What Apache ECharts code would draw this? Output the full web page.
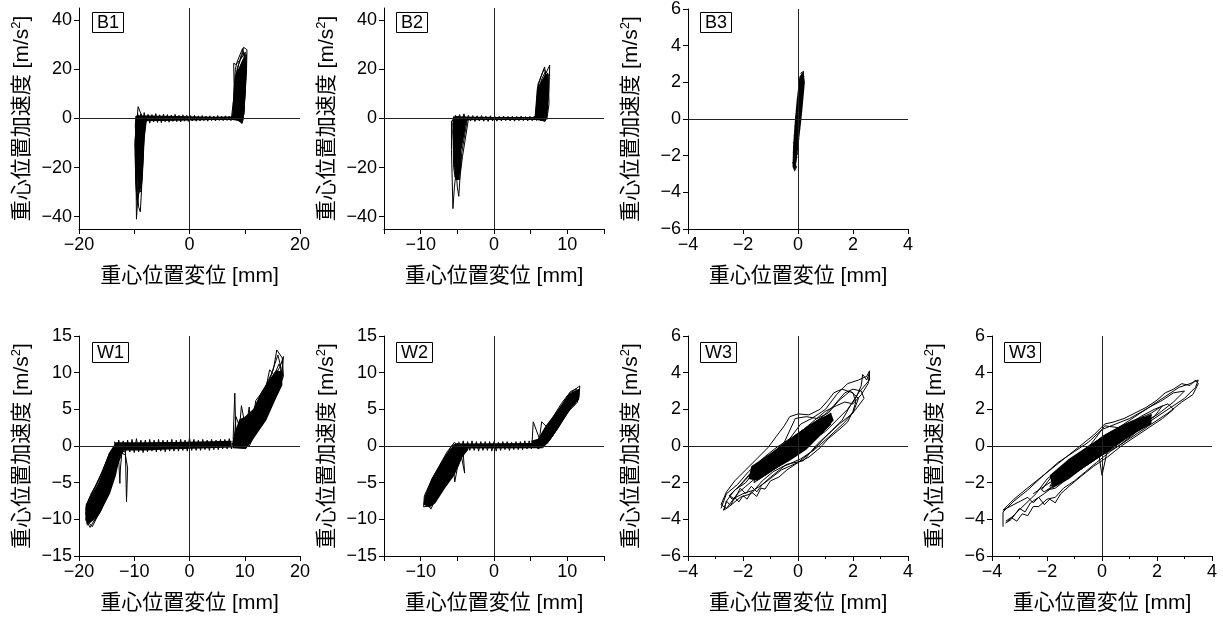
<!DOCTYPE html>
<html>
<head>
<meta charset="utf-8">
<script src="https://cdn.jsdelivr.net/npm/echarts@6/dist/echarts.min.js"></script>
<style>
  html, body { margin: 0; padding: 0; background: #fff; }
  #main { width: 1223px; height: 621px; }
</style>
</head>
<body>
<div id="main"></div>
<script>
// ---- data ([displacement mm, acceleration m/s2]) ----
// B1
var b1Plateau = [[-9.4,2.2],[-9.1,-1.6],[-8.8,1.9],[-8.5,-1.8],[-8.2,2.4],[-7.9,-1.5],[-7.5,1.7],[-7.2,-1.9],[-6.8,1.6],[-6.5,-1.4],[-6.1,2.0],[-5.8,-1.6],[-5.4,1.5],[-5.1,-1.7],[-4.7,1.8],[-4.4,-1.3],[-4.0,1.6],[-3.7,-1.5],[-3.3,1.4],[-3.0,-1.2],[-2.6,1.7],[-2.3,-1.3],[-1.9,1.3],[-1.6,-1.4],[-1.2,1.5],[-0.9,-1.1],[-0.5,1.3],[-0.2,-1.2],[0.2,1.2],[0.5,-1.0],[0.9,1.3],[1.2,-1.1],[1.6,1.1],[1.9,-1.0],[2.3,1.2],[2.6,-0.9],[3.0,1.0],[3.3,-1.1],[3.7,1.1],[4.0,-0.9],[4.4,1.0],[4.7,-1.0],[5.1,1.2],[5.4,-0.8],[5.8,1.0],[6.1,-0.9],[6.5,1.1],[6.8,-0.8],[7.2,1.0],[7.5,-0.9],[7.9,1.2]];
var b1Left = [[-7.8,0.3],[-9.5,-1.5],[-9.7,-20],[-9.6,-41],[-9.3,-30],[-8.6,-12],[-8.2,-1],[-9.4,1.5],[-9.8,-8],[-9.7,-25],[-9.2,-36],[-8.9,-38],[-8.7,-30],[-8.4,-15],[-8.1,-2],[-9.3,4.8],[-9.6,-3],[-9.8,-15],[-9.5,-33],[-9.1,-30],[-8.5,-18],[-8.2,-4],[-9.5,0.8],[-9.9,-10],[-9.7,-28],[-9.4,-35],[-8.9,-24],[-8.4,-10],[-8.0,-1],[-9.4,1.0],[-9.7,-18],[-9.5,-30],[-9.0,-22],[-8.6,-14],[-8.3,-6],[-7.9,0],[-9.6,0.5],[-9.8,-12],[-9.6,-25],[-9.2,-20],[-8.8,-12],[-8.3,-3],[-9.5,1.2],[-9.7,-6],[-9.4,-22],[-8.9,-16],[-8.5,-8],[-8.1,-1],[-9.4,0.5],[-9.6,-14],[-9.3,-28],[-8.8,-30],[-8.5,-22],[-8.2,-8],[-7.8,-0.5]];
var b1Right = [[7.6,0.5],[8.0,8],[8.3,20],[8.6,23],[9.6,28.5],[10.2,24],[10.0,10],[9.7,0],[9.5,-2],[8.0,1],[8.2,12],[8.6,20],[9.4,26],[9.8,29],[10.4,28],[10.3,18],[9.9,5],[9.6,-1],[7.9,0.5],[8.1,10],[8.0,22.5],[8.4,22],[9.2,24],[10.1,27],[10.0,14],[9.8,2],[9.4,-1.5],[8.2,1.2],[8.5,14],[9.0,20],[9.9,25],[10.3,26],[10.1,12],[9.7,0.5],[8.3,0.5],[8.6,10],[9.2,18],[9.8,22],[10.2,20],[9.9,6],[9.3,-1],[8.4,0.8],[8.8,8],[9.3,14],[9.9,18],[10.0,8],[9.6,0],[8.0,0.3],[8.3,16],[8.9,22],[9.7,27],[10.2,22],[9.9,2],[9.5,-0.5]];
var b1PlateauCore = [[-9.4,1.3],[-5,1.1],[0,0.9],[4,0.7],[8,0.8],[8,-0.6],[4,-0.6],[0,-0.8],[-5,-1.0],[-9.4,-1.1]];
var b1LeftCore = [[-9.8,1],[-7.7,0.8],[-7.9,-3],[-8.2,-9],[-8.4,-20],[-8.6,-27],[-9.0,-30],[-9.4,-27],[-9.6,-20],[-9.8,-9],[-9.9,-3]];
var b1RightCore = [[7.6,-0.5],[7.7,1],[8.0,12],[8.3,18],[9.0,21],[9.6,24],[10.1,25],[10.2,20],[10.0,10],[9.8,0],[9.6,-2],[8.8,-1]];

// B2
var b2Plateau = [[-5.3,1.4],[-5.0,-1.2],[-4.7,1.6],[-4.4,-1.1],[-4.1,1.9],[-3.8,-1.3],[-3.5,1.3],[-3.2,-1.0],[-2.9,1.2],[-2.6,-1.2],[-2.3,1.1],[-2.0,-1.0],[-1.7,1.2],[-1.4,-1.1],[-1.1,1.0],[-0.8,-1.2],[-0.5,1.1],[-0.2,-1.0],[0.1,1.0],[0.4,-1.1],[0.7,0.9],[1.0,-1.0],[1.3,1.0],[1.6,-0.9],[1.9,0.9],[2.2,-1.0],[2.5,0.9],[2.8,-1.1],[3.1,0.9],[3.4,-0.9],[3.7,1.0],[4.0,-0.9],[4.3,0.8],[4.6,-1.0],[4.9,0.9],[5.2,-0.9],[5.5,1.0],[5.8,-0.8],[6.1,1.0],[6.4,-0.9],[6.7,0.9],[7.0,-1.0]];
var b2Left = [[-3.6,0.5],[-4.4,-14],[-4.6,-22],[-4.8,-31.7],[-5.0,-28],[-5.3,-15],[-5.5,-1],[-3.8,0.2],[-4.5,-10],[-4.9,-20],[-5.2,-25],[-5.4,-18],[-5.6,-2],[-4.0,1.0],[-4.6,-8],[-5.0,-18],[-5.3,-22],[-5.5,-12],[-5.6,0],[-4.2,0.5],[-4.8,-12],[-5.4,-28],[-5.6,-36.7],[-5.8,-12.7],[-5.8,-1],[-4.4,0.5],[-4.9,-10],[-5.2,-20],[-5.5,-10],[-5.5,0.5],[-3.5,-0.5],[-4.3,-15.6],[-4.7,-25],[-5.1,-23],[-5.4,-8],[-5.3,1],[-4.6,0.5],[-5.0,-14],[-5.3,-24],[-5.5,-20],[-5.6,-5],[-5.2,0.5]];
var b2Right = [[5.6,0.5],[5.8,8],[5.9,12],[6.4,17],[6.9,21],[7.1,15],[7.0,3],[6.8,-1],[5.8,0.5],[6.0,10],[6.5,14],[7.0,18],[7.6,21.7],[7.5,12],[7.2,1],[6.9,-1.2],[6.0,1],[6.2,8],[6.6,12],[7.1,16],[7.4,14],[7.2,4],[7.0,0],[5.9,0.3],[6.1,12],[6.5,16],[7.0,19],[7.3,10],[7.1,0],[6.2,0.6],[6.4,6],[6.9,12],[7.3,8],[7.0,-0.5],[5.7,0.2],[6.0,14],[6.8,20],[7.4,18],[7.5,6],[7.2,-0.5]];
var b2PlateauCore = [[-5.3,0.8],[0,0.6],[7,0.6],[7,-0.6],[0,-0.6],[-5.3,-0.7]];
var b2LeftCore = [[-5.6,0.8],[-3.6,0.6],[-3.8,-2],[-4.0,-6],[-4.45,-13],[-4.5,-20],[-4.8,-25],[-5.2,-25],[-5.35,-20],[-5.5,-13],[-5.6,-6]];
var b2RightCore = [[5.6,-0.5],[5.6,1],[5.8,8],[6.0,13],[6.6,16],[7.0,18],[7.4,18.5],[7.4,8],[7.2,0],[7.0,-1.2]];

// B3
var b3Loop = [[-0.13,-2.85],[-0.05,-2.6],[-0.2,-2.4],[-0.04,-2.1],[-0.18,-1.8],[0.02,-1.6],[-0.17,-1.3],[0.04,-1.1],[-0.15,-0.9],[0.06,-0.6],[-0.12,-0.4],[0.1,-0.2],[-0.11,0.1],[0.12,0.3],[-0.06,0.5],[0.14,0.7],[-0.02,0.9],[0.16,1.1],[0.0,1.3],[0.18,1.5],[0.02,1.7],[0.2,1.9],[0.04,2.1],[0.22,2.3],[0.1,2.5],[0.2,2.6],[0.17,2.2],[0.06,1.9],[0.15,1.6],[0.0,1.2],[0.12,0.9],[-0.04,0.6],[0.09,0.2],[-0.08,-0.1],[0.06,-0.5],[-0.12,-0.8],[0.02,-1.2],[-0.15,-1.5],[-0.02,-1.9],[-0.16,-2.2],[-0.08,-2.5],[-0.1,-2.7]];
var b3Core = [[-0.2,-2.6],[-0.13,-2.85],[-0.05,-2.3],[0.05,-1.0],[0.14,0.2],[0.25,2.0],[0.2,2.6],[0.05,2.3],[-0.05,1.0],[-0.12,-0.2],[-0.18,-1.5]];

// W1
var w1Plateau = [[-13.6,0.6],[-13.2,-0.9],[-12.8,0.8],[-12.4,-1.0],[-12.0,0.7],[-11.6,-0.9],[-11.2,0.8],[-10.8,-0.8],[-10.4,0.9],[-10.0,-0.9],[-9.6,1.0],[-9.2,-0.8],[-8.8,0.8],[-8.4,-0.9],[-8.0,0.8],[-7.6,-0.8],[-7.2,0.9],[-6.8,-0.7],[-6.4,0.8],[-6.0,-0.8],[-5.6,0.9],[-5.2,-0.7],[-4.8,0.8],[-4.4,-0.8],[-4.0,0.8],[-3.6,-0.7],[-3.2,0.9],[-2.8,-0.7],[-2.4,0.8],[-2.0,-0.7],[-1.6,0.9],[-1.2,-0.6],[-0.8,0.8],[-0.4,-0.7],[0.0,1.1],[0.4,-0.6],[0.8,0.9],[1.2,-0.6],[1.6,0.8],[2.0,-0.6],[2.4,0.9],[2.8,-0.5],[3.2,0.8],[3.6,-0.6],[4.0,0.9],[4.4,-0.5],[4.8,0.8],[5.2,-0.5],[5.6,0.9],[6.0,-0.4],[6.4,0.9],[6.8,-0.4],[7.2,1.0],[7.6,-0.4],[8.0,1.1]];
var w1Left = [[-12.0,-0.6],[-13.0,-2.5],[-14.5,-5.5],[-16.0,-8.2],[-17.5,-10.0],[-18.5,-10.8],[-18.8,-8.5],[-17.8,-6.5],[-16.5,-4.8],[-15.0,-2.5],[-14.0,-0.6],[-13.0,0.2],[-12.6,-0.8],[-13.6,-3.8],[-15.0,-6.6],[-16.4,-9.2],[-17.6,-11.0],[-18.2,-10.5],[-18.6,-7.9],[-17.4,-6.0],[-16.0,-3.8],[-14.8,-1.6],[-13.8,-0.3],[-12.8,-0.5],[-13.8,-2.4],[-15.2,-5.0],[-16.6,-7.6],[-17.9,-9.8],[-18.7,-10.2],[-18.3,-7.4],[-17.0,-5.6],[-15.6,-3.2],[-14.5,-1.0],[-13.4,0.2],[-12.4,-1.0],[-13.4,-3.2],[-14.6,-6.0],[-16.0,-8.8],[-17.2,-10.2],[-18.0,-9.6],[-17.8,-7.2],[-16.4,-5.2],[-15.2,-2.8],[-14.2,-0.8],[-12.8,0.3],[-12.2,-0.5],[-12.5,-3.0],[-12.6,-5.1],[-12.8,-2.0],[-13.2,-1.0],[-14.0,-4.5],[-15.4,-7.4],[-16.8,-9.6],[-18.0,-11.1],[-18.8,-10.0],[-18.5,-8.0],[-17.2,-6.5],[-15.8,-4.4],[-14.6,-2.0],[-13.6,-0.6],[-11.6,-0.8],[-11.4,-7.6],[-11.2,-3.0],[-11.6,-1.2],[-12.2,-1.0],[-13.0,-1.2],[-14.2,-4.0],[-15.6,-6.8],[-17.0,-9.0],[-18.4,-10.4],[-18.8,-9.2],[-18.0,-7.0],[-16.8,-5.6],[-15.4,-3.4],[-14.0,-1.2],[-12.5,0.2]];
var w1Right = [[7.6,0.3],[9.0,0.0],[10.5,0.1],[11.5,1.2],[13.0,3.0],[14.5,5.0],[16.0,7.5],[17.0,9.5],[16.8,12.0],[15.8,13.1],[15.2,10.5],[14.0,8.0],[12.5,6.0],[11.0,4.0],[9.5,2.5],[8.4,1.5],[8.2,7.2],[7.9,1.0],[8.5,-0.2],[10.2,-0.3],[11.2,0.8],[12.5,2.4],[14.0,4.2],[15.4,6.4],[16.6,8.4],[17.0,12.2],[16.4,10.8],[15.4,9.6],[14.5,10.4],[13.8,7.8],[12.4,5.4],[11.0,3.5],[10.8,5.3],[10.2,2.2],[9.4,5.5],[9.0,2.0],[8.0,0.8],[9.2,-0.1],[10.8,0.0],[12.0,1.8],[13.4,3.6],[14.8,5.6],[16.2,7.6],[16.9,9.8],[16.2,11.2],[15.0,9.0],[13.6,6.8],[12.2,5.0],[11.2,4.6],[10.0,3.0],[8.8,1.6],[8.0,0.4],[8.8,0.0],[10.6,0.4],[11.8,2.2],[13.2,4.6],[14.6,6.6],[15.8,8.4],[16.6,10.6],[16.0,12.4],[14.8,9.8],[13.4,7.6],[12.0,6.2],[11.6,4.2],[10.4,3.6],[9.2,2.4],[8.4,4.0],[8.1,0.6]];
var w1PlateauCore = [[-13.5,0.5],[-8,0.5],[-3,0.55],[2,0.6],[7.6,0.7],[7.6,-0.2],[2,-0.35],[-3,-0.45],[-8,-0.6],[-13.5,-0.6]];
var w1LeftCore = [[-18.8,-8.0],[-16.3,-5.0],[-14.6,-1.0],[-13.6,0.2],[-12.4,0.2],[-11.8,-0.5],[-12.6,-1.5],[-13.3,-4.0],[-14.4,-6.5],[-16.3,-9.3],[-17.8,-10.4],[-18.6,-10.6]];
var w1RightCore = [[7.8,-0.3],[10.2,-0.4],[11.5,0.9],[13.9,3.5],[15.8,6.7],[16.8,8.3],[16.8,10.2],[15.6,10.3],[14.4,9.0],[13,7.4],[11.5,5.0],[10,4.0],[9,3.6],[8,1.5]];

// W2
var w2Plateau = [[-4.8,0.6],[-4.5,-0.6],[-4.2,0.7],[-3.9,-0.7],[-3.6,0.6],[-3.3,-0.6],[-3.0,0.7],[-2.7,-0.6],[-2.4,0.6],[-2.1,-0.7],[-1.8,0.6],[-1.5,-0.6],[-1.2,0.6],[-0.9,-0.6],[-0.6,0.6],[-0.3,-0.7],[0,0.6],[0.3,-0.7],[0.6,0.5],[0.9,-0.6],[1.2,0.6],[1.5,-0.5],[1.8,0.6],[2.1,-0.6],[2.4,0.5],[2.7,-0.5],[3.0,0.6],[3.3,-0.5],[3.6,0.6],[3.9,-0.5],[4.2,0.7],[4.5,-0.4],[4.8,0.7],[5.1,-0.4],[5.4,0.7]];
var w2Left = [[-3.5,0.0],[-4.5,-1.0],[-5.8,-2.8],[-7.0,-4.6],[-8.2,-6.6],[-9.0,-8.2],[-9.6,-8.3],[-9.5,-6.8],[-8.5,-4.6],[-7.4,-2.6],[-6.4,-0.8],[-5.4,0.5],[-4.2,-0.6],[-5.2,-2.6],[-6.4,-4.6],[-7.6,-6.4],[-8.6,-8.6],[-9.2,-7.6],[-8.8,-5.8],[-7.8,-3.8],[-6.8,-1.8],[-5.8,0.0],[-4.8,0.4],[-4.0,-3.7],[-4.2,-1.0],[-5.0,-3.0],[-5.35,-4.9],[-5.6,-2.6],[-6.2,-3.4],[-7.2,-5.2],[-8.0,-7.0],[-9.0,-7.4],[-9.4,-7.2],[-8.2,-5.0],[-7.2,-3.0],[-6.2,-1.4],[-5.2,0.2],[-3.8,-0.3],[-5.0,-2.0],[-6.2,-4.0],[-7.4,-5.8],[-8.4,-7.6],[-9.3,-8.0],[-9.0,-6.6],[-7.9,-4.5],[-6.9,-2.4],[-6.0,-0.8],[-4.6,0.2]];
var w2Right = [[5.0,0.2],[6.2,-0.2],[7.3,0.4],[8.4,2.0],[9.6,4.0],[10.8,5.8],[11.6,6.6],[11.7,8.2],[10.9,7.6],[10.1,7.0],[9.2,5.8],[8.2,4.2],[7.2,2.6],[6.5,3.3],[6.2,1.0],[5.35,3.3],[5.2,0.6],[6.0,-0.4],[7.0,0.2],[8.0,1.4],[9.2,3.4],[10.4,5.0],[11.4,6.0],[11.2,7.8],[10.4,7.4],[9.6,6.0],[8.6,4.6],[7.6,3.0],[6.8,1.8],[6.0,0.8],[6.6,-0.3],[7.6,0.8],[8.8,2.6],[10.0,4.6],[11.0,5.6],[11.6,7.4],[10.6,6.6],[9.8,5.2],[8.8,4.0],[7.8,2.4],[7.0,1.2],[5.6,0.4]];
var w2PlateauCore = [[-4.8,0.35],[5.2,0.4],[5.2,-0.3],[-4.8,-0.35]];
var w2LeftCore = [[-9.6,-8.0],[-9.5,-7.0],[-8.5,-4.4],[-6.7,-1.4],[-5.4,0.3],[-3.5,0.3],[-3.5,-0.5],[-4.3,-1.5],[-5.4,-4.0],[-6.7,-5.8],[-8.0,-7.8],[-8.8,-8.4]];
var w2RightCore = [[5.1,-0.3],[6.5,-0.3],[7.3,0.4],[8.7,2.3],[10.6,5.3],[11.6,6.3],[11.6,7.8],[10.9,7.5],[10.1,7.0],[8.7,4.9],[7.0,2.7],[6,1.0],[5.1,0.7]];

// W3 (left)
var w3aOuter = [[-2.8,-3.4],[-2.6,-2.6],[-2.2,-2.1],[-1.8,-1.4],[-1.3,-0.7],[-0.8,-0.1],[-0.3,0.4],[0.1,1.2],[0.5,1.5],[1.0,2.0],[1.4,2.8],[1.8,3.4],[2.2,3.6],[2.5,3.8],[2.6,4.1],[2.6,3.6],[2.2,2.9],[1.9,2.2],[1.6,1.4],[1.2,0.8],[0.7,0.1],[0.2,-0.8],[-0.4,-1.0],[-0.9,-1.4],[-1.3,-1.9],[-1.7,-2.6],[-2.1,-2.8],[-2.5,-3.3],[-2.7,-3.5],[-2.6,-3.0],[-2.3,-2.4],[-1.9,-2.0],[-1.5,-1.2],[-1.0,-0.5],[-0.5,0.2],[-0.1,1.5],[0.3,1.6],[0.7,1.5],[1.1,1.8],[1.5,2.5],[1.9,3.0],[2.2,2.6],[2.0,1.8],[1.5,1.2],[1.0,0.5],[0.5,-0.3],[0.0,-0.9],[-0.6,-1.3],[-1.2,-2.0],[-1.6,-2.4],[-2.0,-2.6],[-2.4,-2.9],[-2.5,-2.7],[-2.0,-2.0],[-1.6,-1.3],[-1.1,-0.6],[-0.6,0.0],[-0.1,0.6],[0.4,1.1],[0.9,1.6],[1.3,2.2],[1.7,2.9],[2.0,3.1],[2.3,3.0],[2.4,2.6],[2.1,2.0],[1.7,1.3],[1.2,0.6],[0.6,-0.2],[0.1,-0.7],[-0.5,-1.1],[-1.0,-1.7],[-1.3,-2.1],[-1.5,-2.5],[-1.7,-2.2],[-1.9,-2.6],[-2.1,-2.3],[-2.3,-2.9],[-2.5,-2.7]];
var w3aExtra = [[-2.7,-3.5],[-2.6,-3.0],[-2.45,-3.25],[-2.3,-2.8],[-2.15,-3.05],[-2.0,-2.7],[-1.85,-2.9],[-1.7,-2.5],[-1.5,-2.75],[-1.35,-2.3],[-1.2,-2.35],[-1.0,-1.9],[-0.7,-1.7],[-0.4,-1.3],[0.0,-0.9],[0.4,-0.6],[0.8,-0.1],[1.1,0.4],[1.5,0.9],[1.8,1.3],[2.0,1.9],[2.1,2.4],[2.0,2.9],[1.8,3.0],[1.6,3.1],[1.3,2.9],[1.1,2.5],[0.8,2.0],[0.4,1.7],[0.0,1.75],[-0.3,1.6],[-0.5,1.1],[-0.8,0.5],[-1.1,-0.1],[-1.5,-0.7],[-1.9,-1.3],[-2.3,-1.9],[-2.6,-2.5],[-2.8,-3.2],[-2.6,-3.4],[-2.2,-2.6],[-1.9,-2.2],[-1.5,-1.7],[-1.0,-1.1],[-0.5,-0.6],[0.0,-0.2],[0.5,0.3],[1.0,0.8],[1.4,1.4],[1.8,2.0],[2.1,2.6],[2.3,3.3],[2.35,3.9],[2.5,3.6],[2.6,4.0],[2.55,3.4],[2.3,2.8],[2.0,2.3],[1.7,2.4],[1.4,2.2],[1.0,1.9],[0.6,1.4],[0.2,0.9],[-0.3,0.3],[-0.8,-0.3],[-1.3,-0.9],[-1.8,-1.6],[-2.2,-2.3]];
var w3aInner = [[-1.8,-1.8],[-1.2,-0.8],[-0.6,-0.1],[0.0,0.6],[0.6,1.2],[1.2,1.8],[1.0,1.0],[0.4,0.2],[-0.2,-0.5],[-0.8,-1.2],[-1.4,-1.8],[-1.7,-1.5],[-1.1,-0.6],[-0.5,0.1],[0.1,0.8],[0.7,1.4],[1.1,1.5],[0.8,0.6],[0.2,-0.2],[-0.4,-0.8],[-1.0,-1.4],[-1.6,-2.0],[-1.5,-1.2],[-0.9,-0.4],[-0.3,0.3],[0.3,0.9],[0.9,1.6],[1.2,1.2],[0.6,0.3],[0.0,-0.4],[-0.6,-1.0],[-1.2,-1.6],[-1.8,-1.6],[-1.3,-1.0],[-0.7,-0.3],[-0.1,0.4],[0.5,1.0],[1.0,1.3],[0.5,0.5],[-0.1,-0.1],[-0.7,-0.7],[-1.3,-1.2],[-1.7,-1.2],[-1.0,-0.7],[-0.4,0.0],[0.2,0.5],[0.8,1.0],[1.2,1.6],[0.7,0.8],[0.1,0.0],[-0.5,-0.6],[-1.1,-1.0],[-1.5,-1.6]];
var w3aCore = [[-1.7,-1.1],[-1.0,-0.4],[-0.3,0.4],[0.3,1.0],[0.8,1.5],[1.2,1.8],[1.3,1.4],[0.9,0.7],[0.3,-0.2],[-0.3,-0.8],[-1.0,-1.4],[-1.5,-1.9],[-1.8,-1.8]];

// W3 (right)
var w3bOuter = [[-3.6,-4.4],[-3.6,-3.6],[-3.2,-3.0],[-2.7,-2.4],[-2.2,-1.7],[-1.6,-0.9],[-1.0,-0.3],[-0.5,0.2],[0.0,0.9],[0.5,1.2],[1.0,1.5],[1.6,2.0],[2.0,2.4],[2.4,2.8],[2.8,3.2],[3.2,3.4],[3.5,3.6],[3.4,3.2],[3.0,2.6],[2.5,2.1],[2.0,1.6],[1.5,1.1],[1.0,0.6],[0.5,0.0],[0.0,-0.5],[-0.5,-0.9],[-1.0,-1.5],[-1.6,-2.0],[-2.1,-2.6],[-2.6,-3.1],[-2.8,-3.6],[-3.0,-3.4],[-3.3,-4.0],[-3.5,-4.2],[-2.4,-2.6],[-2.0,-1.8],[-1.5,-1.2],[-1.0,-0.6],[-0.4,0.1],[0.1,1.1],[0.6,1.0],[1.2,1.6],[1.7,2.1],[2.2,2.5],[2.6,2.9],[3.0,3.0],[2.6,2.4],[2.0,1.7],[1.4,1.2],[0.8,0.5],[0.2,-0.2],[0.0,-1.6],[-0.1,-0.6],[-0.6,-1.0],[-1.2,-1.6],[-1.7,-2.1],[-2.1,-2.5],[-2.2,-2.4],[-1.8,-1.6],[-1.2,-0.9],[-0.6,-0.2],[0.0,0.5],[0.6,1.0],[1.2,1.4],[1.8,1.8],[2.2,2.2],[1.9,1.6],[1.3,1.0],[0.7,0.4],[0.1,-0.3],[-0.5,-0.9],[-1.1,-1.6],[-1.7,-2.3],[-2.0,-2.4]];
var w3bExtra = [[-3.5,-4.1],[-3.3,-3.9],[-3.1,-4.1],[-2.9,-3.7],[-2.7,-3.8],[-2.5,-3.3],[-2.3,-3.3],[-2.0,-2.9],[-1.7,-2.8],[-1.4,-2.3],[-1.0,-1.9],[-0.6,-1.4],[-0.2,-0.9],[0.3,-0.3],[0.8,0.2],[1.3,0.7],[1.8,1.2],[2.4,1.8],[2.9,2.4],[3.3,2.8],[3.5,3.4],[3.4,3.6],[3.2,3.3],[2.9,3.4],[2.6,3.1],[2.3,2.9],[2.0,2.5],[1.6,2.1],[1.2,1.8],[0.8,1.5],[0.4,1.3],[0.1,1.2],[-0.3,0.6],[-0.8,0.0],[-1.3,-0.6],[-1.8,-1.2],[-2.3,-1.8],[-2.8,-2.4],[-3.2,-2.9],[-3.6,-3.5],[-2.7,-2.8],[-2.5,-3.1],[-2.3,-2.8],[-2.1,-3.2],[-1.9,-2.9],[-1.7,-3.1],[-1.5,-2.6],[-1.2,-2.2],[-0.8,-1.7],[-0.3,-1.1],[0.2,-0.6],[0.7,0.0],[1.2,0.5],[1.7,1.0],[2.2,1.5],[2.6,2.0],[2.4,2.3],[1.9,2.0],[1.4,1.6],[0.9,1.1],[0.4,0.6],[-0.1,0.0],[-0.6,-0.6],[-1.1,-1.2],[-1.6,-1.7],[-2.1,-2.2],[-2.5,-2.6]];
var w3bInner = [[-1.8,-2.0],[-1.2,-1.1],[-0.6,-0.4],[0.0,0.4],[0.6,0.9],[1.2,1.3],[1.8,1.7],[1.5,1.0],[0.9,0.5],[0.3,-0.1],[-0.3,-0.8],[-0.9,-1.4],[-1.5,-2.0],[-1.7,-1.6],[-1.1,-0.8],[-0.5,-0.1],[0.1,0.6],[0.7,1.1],[1.3,1.5],[1.6,1.2],[1.0,0.7],[0.4,0.1],[-0.2,-0.6],[-0.8,-1.2],[-1.4,-1.8],[-1.9,-2.2],[-1.5,-1.3],[-0.9,-0.6],[-0.3,0.1],[0.3,0.7],[0.9,1.2],[1.5,1.6],[1.3,0.9],[0.7,0.3],[0.1,-0.3],[-0.5,-0.9],[-1.1,-1.5],[-1.6,-1.9],[-1.3,-1.0],[-0.7,-0.3],[-0.1,0.3],[0.5,0.8],[1.1,1.0],[1.7,1.4],[1.2,0.7],[0.6,0.0],[0.0,-0.5],[-0.6,-1.1],[-1.2,-1.7]];
var w3bCore = [[-1.9,-1.6],[-1.2,-0.7],[-0.5,0.0],[0,0.5],[0.6,1.0],[1.2,1.4],[1.8,1.75],[1.8,1.2],[1.2,0.7],[0.6,0.1],[0,-0.5],[-0.6,-1.1],[-1.2,-1.8],[-1.8,-2.3]];

// tick positions
var xTicks20 = [-20, -10, 0, 10, 20];
var xTicks15 = [-15, -10, -5, 0, 5, 10, 15];
var xLabelsB1 = [-20, 0, 20];
var xLabels15 = [-10, 0, 10];
var yTicks45 = [-40, -20, 0, 20, 40];

var panelNames = ['B1', 'B2', 'B3', 'W1', 'W2', 'W3', 'W3'];

var xName = '重心位置変位 [mm]';
var yName = '{n|重心位置加速度 [m/s}{sup|2}{n|]}';

var jp = "'Liberation Sans', 'Noto Sans CJK JP', sans-serif";

function minusFmt(v) {
    return v < 0 ? '\u2212' + (-v) : String(v);
}

// layout of the 7 panels
var panels = [
    { grid: { left: 79, top: 8, width: 221, height: 221 }, box: [92, 12],
      x: { min: -20, max: 20, ticks: xTicks20, labels: xLabelsB1 },
      y: { min: -45, max: 45, ticks: yTicks45, labels: yTicks45 },
      lines: [b1Plateau, b1Left, b1Right], cores: [b1PlateauCore, b1LeftCore, b1RightCore] },
    { grid: { left: 384, top: 8, width: 220, height: 221 }, box: [396, 12],
      x: { min: -15, max: 15, ticks: xTicks15, labels: xLabels15 },
      y: { min: -45, max: 45, ticks: yTicks45, labels: yTicks45 },
      lines: [b2Plateau, b2Left, b2Right], cores: [b2PlateauCore, b2LeftCore, b2RightCore] },
    { grid: { left: 688, top: 8, width: 220, height: 221 }, box: [700, 12],
      x: { min: -4, max: 4, interval: 2 },
      y: { min: -6, max: 6, interval: 2 },
      lines: [b3Loop], cores: [b3Core] },
    { grid: { left: 79, top: 336, width: 221, height: 220 }, box: [92, 342],
      x: { min: -20, max: 20, interval: 10 },
      y: { min: -15, max: 15, interval: 5 },
      lines: [w1Plateau, w1Left, w1Right], cores: [w1PlateauCore, w1LeftCore, w1RightCore] },
    { grid: { left: 384, top: 336, width: 220, height: 220 }, box: [396, 342],
      x: { min: -15, max: 15, ticks: xTicks15, labels: xLabels15 },
      y: { min: -15, max: 15, interval: 5 },
      lines: [w2Plateau, w2Left, w2Right], cores: [w2PlateauCore, w2LeftCore, w2RightCore] },
    { grid: { left: 688, top: 336, width: 220, height: 220 }, box: [700, 342],
      x: { min: -4, max: 4, interval: 2, minor: true },
      y: { min: -6, max: 6, interval: 2 },
      lines: [w3aOuter, w3aExtra, w3aInner], cores: [w3aCore] },
    { grid: { left: 992, top: 336, width: 220, height: 220 }, box: [1004, 342],
      x: { min: -4, max: 4, interval: 2, minor: true },
      y: { min: -6, max: 6, interval: 2 },
      lines: [w3bOuter, w3bExtra, w3bInner], cores: [w3bCore] }
];

function makeAxis(a, i, isX) {
    var axis = {
        type: 'value',
        gridIndex: i,
        min: a.min,
        max: a.max,
        position: isX ? 'bottom' : 'left',
        axisLine: { show: true, onZero: false, lineStyle: { color: '#000', width: 1 } },
        axisTick: { show: true, inside: false, length: 5, lineStyle: { color: '#000', width: 1 } },
        axisLabel: { color: '#000', fontSize: 18, fontFamily: 'Liberation Sans', margin: 7, formatter: minusFmt },
        splitLine: { show: false },
        name: isX ? xName : yName,
        nameLocation: 'middle',
        nameGap: isX ? 37 : 44,
        nameTextStyle: isX
            ? { color: '#000', fontSize: 21, fontFamily: jp }
            : { color: '#000', fontFamily: jp,
                rich: {
                    n: { fontSize: 21, fontFamily: jp, color: '#000', lineHeight: 25 },
                    sup: { fontSize: 13, fontFamily: 'Liberation Sans', color: '#000', verticalAlign: 'top', lineHeight: 14 }
                } }
    };
    if (a.interval) {
        axis.interval = a.interval;
    } else {
        axis.axisTick.customValues = a.ticks;
        axis.axisLabel.customValues = a.labels;
    }
    if (a.minor) {
        axis.minorTick = { show: true, splitNumber: 2, length: 3, lineStyle: { color: '#000', width: 1 } };
    }
    return axis;
}

// filled dense core of the loops, vertices mapped through the axes
function coreSeries(i, poly) {
    return {
        type: 'custom',
        xAxisIndex: i,
        yAxisIndex: i,
        silent: true,
        data: [[poly[0][0], poly[0][1]]],
        renderItem: function (params, api) {
            var pts = poly.map(function (p) { return api.coord(p); });
            return { type: 'polygon', shape: { points: pts }, style: { fill: '#000' } };
        }
    };
}

var option = {
    backgroundColor: '#fff',
    animation: false,
    title: [],
    grid: [],
    xAxis: [],
    yAxis: [],
    series: []
};

panels.forEach(function (p, i) {
    option.grid.push(p.grid);
    option.xAxis.push(makeAxis(p.x, i, true));
    option.yAxis.push(makeAxis(p.y, i, false));
    option.title.push({
        text: panelNames[i],
        left: p.box[0],
        top: p.box[1],
        padding: [2, 5, 1, 5],
        borderColor: '#000',
        borderWidth: 1,
        textStyle: { color: '#000', fontSize: 18, fontWeight: 'normal', fontFamily: 'Liberation Sans' }
    });
    p.cores.forEach(function (c) {
        option.series.push(coreSeries(i, c));
    });
    p.lines.forEach(function (d, k) {
        var s = {
            type: 'line',
            xAxisIndex: i,
            yAxisIndex: i,
            data: d,
            symbol: 'none',
            showSymbol: false,
            silent: true,
            lineStyle: { color: '#000', width: 1 }
        };
        if (k === 0) {
            s.markLine = {
                silent: true,
                symbol: 'none',
                label: { show: false },
                lineStyle: { color: '#222', width: 1, type: 'solid' },
                data: [{ xAxis: 0 }, { yAxis: 0 }]
            };
        }
        option.series.push(s);
    });
});

var myChart = echarts.init(document.getElementById('main'));
myChart.setOption(option);
window.onresize = function () { myChart.resize(); };
</script>
</body>
</html>
